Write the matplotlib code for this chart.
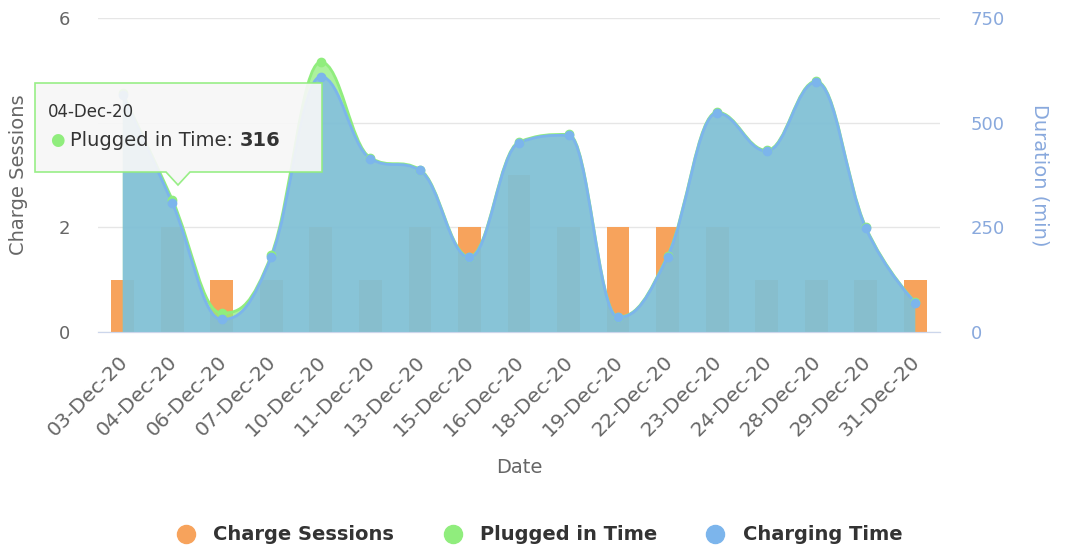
import numpy as np
import matplotlib
matplotlib.use("Agg")
import matplotlib.pyplot as plt
from matplotlib.path import Path
from matplotlib.patches import PathPatch, Polygon
from matplotlib.lines import Line2D
import matplotlib.transforms as mtransforms

dates = ['03-Dec-20', '04-Dec-20', '06-Dec-20', '07-Dec-20', '10-Dec-20', '11-Dec-20',
         '13-Dec-20', '15-Dec-20', '16-Dec-20', '18-Dec-20', '19-Dec-20', '22-Dec-20',
         '23-Dec-20', '24-Dec-20', '28-Dec-20', '29-Dec-20', '31-Dec-20']
sessions = [1, 2, 1, 1, 2, 1, 2, 2, 3, 2, 2, 2, 2, 1, 1, 1, 1]
plugged = [570, 316, 45, 184, 645, 416, 388, 180, 454, 472, 36, 182, 525, 434, 599, 251, 71]
charging = [565, 308, 30, 180, 610, 414, 386, 178, 452, 470, 35, 180, 523, 432, 597, 249, 70]
left_ticks = [0, 2, 4, 6]
left_labels = ['0', '2', '', '6']   # the "4" sits under the tooltip
right_ticks = [0, 250, 500, 750]

c_orange = '#f7a35c'
c_green = '#90ed7d'
c_blue = '#7cb5ec'
W, H = 1069, 551


def spline(xs, ys, sm=1.5):
    # highcharts-like areaspline control points
    n = len(xs)
    lc = [None] * n
    rc = [None] * n
    for i in range(1, n - 1):
        px, py = xs[i], ys[i]
        lx, ly = xs[i - 1], ys[i - 1]
        nx, ny = xs[i + 1], ys[i + 1]
        lcx, lcy = (sm * px + lx) / (sm + 1), (sm * py + ly) / (sm + 1)
        rcx, rcy = (sm * px + nx) / (sm + 1), (sm * py + ny) / (sm + 1)
        corr = (rcy - lcy) * (rcx - px) / (rcx - lcx) + py - rcy
        lcy += corr
        rcy += corr
        if lcy > ly and lcy > py:
            lcy = max(ly, py); rcy = 2 * py - lcy
        elif lcy < ly and lcy < py:
            lcy = min(ly, py); rcy = 2 * py - lcy
        if rcy > ny and rcy > py:
            rcy = max(ny, py); lcy = 2 * py - rcy
        elif rcy < ny and rcy < py:
            rcy = min(ny, py); lcy = 2 * py - rcy
        lc[i] = (lcx, lcy)
        rc[i] = (rcx, rcy)
    verts = [(xs[0], ys[0])]
    for i in range(1, n):
        verts += [rc[i - 1] or (xs[i - 1], ys[i - 1]), lc[i] or (xs[i], ys[i]), (xs[i], ys[i])]
    return verts


def draw_area(ax, xs, ys, color):
    v = spline(xs, ys)
    line = Path(v, [Path.MOVETO] + [Path.CURVE4] * (len(v) - 1))
    fill = Path([(xs[0], 0)] + v + [(xs[-1], 0), (xs[0], 0)],
                [Path.MOVETO, Path.LINETO] + [Path.CURVE4] * (len(v) - 1) + [Path.LINETO, Path.CLOSEPOLY])
    ax.add_patch(PathPatch(fill, facecolor=color, alpha=0.75, lw=0))
    ax.add_patch(PathPatch(line, facecolor='none', edgecolor=color, lw=2))
    ax.plot(xs, ys, 'o', color=color, ms=6, zorder=3)


fig = plt.figure(figsize=(W / 100, H / 100), dpi=100)
ax = fig.add_axes([98 / W, (H - 332) / H, (940 - 98) / W, (332 - 18) / H])
ax2 = ax.twinx()

x = np.arange(len(dates))
ax.bar(x, sessions, width=0.46, color=c_orange, zorder=2)
ax.set_xlim(-0.5, len(dates) - 0.5)
ax.set_ylim(0, 6)
ax.set_yticks(left_ticks)
ax.set_yticklabels(left_labels)
ax.grid(axis='y', color='#e6e6e6', lw=1)
ax.set_axisbelow(True)

draw_area(ax2, x, plugged, c_green)
draw_area(ax2, x, charging, c_blue)
ax2.set_ylim(0, 750)
ax2.set_yticks(right_ticks)

for a in (ax, ax2):
    for s in ('top', 'left', 'right'):
        a.spines[s].set_visible(False)
    a.spines['bottom'].set_color('#ccd6eb')
    a.tick_params(axis='y', length=0)

ax.tick_params(axis='y', labelsize=13, labelcolor='#666666', pad=20)
ax2.tick_params(axis='y', labelsize=13, labelcolor='#89a9dd', pad=22)

ax.set_xticks(x)
ax.set_xticklabels(dates, rotation=45, ha='right', va='center', rotation_mode='anchor',
                   fontsize=14.5, color='#666666')
ax.tick_params(axis='x', length=0, pad=19)
off = mtransforms.ScaledTranslation(2 / 100, 0, fig.dpi_scale_trans)
for lab in ax.get_xticklabels():
    lab.set_transform(lab.get_transform() + off)

ax.set_ylabel('Charge Sessions', fontsize=14, color='#666666')
ax.yaxis.set_label_coords((28 - 98) / 842, 0.5)
ax2.set_ylabel('Duration (min)', fontsize=14, color='#89a9dd', rotation=270, va='center')
ax2.yaxis.set_label_coords((1040 - 98) / 842, 0.5)
ax.set_xlabel('Date', fontsize=14, color='#666666')
ax.xaxis.set_label_coords(0.5, -(458 - 332) / 314)

handles = [Line2D([], [], marker='o', ls='', ms=13, color=c) for c in (c_orange, c_green, c_blue)]
leg = fig.legend(handles, ['Charge Sessions', 'Plugged in Time', 'Charging Time'],
                 loc='center', bbox_to_anchor=(0.5, (H - 535) / H), ncol=3, frameon=False,
                 prop={'size': 14, 'weight': 'bold'}, handletextpad=0.4, columnspacing=2.0)
for t in leg.get_texts():
    t.set_color('#333333')

# tooltip
pts = [(35, 83), (322, 83), (322, 172), (190, 172), (178, 185), (166, 172), (35, 172)]
tip = Polygon([(px / W, 1 - py / H) for px, py in pts], closed=True, transform=fig.transFigure,
              facecolor='#f7f7f7', alpha=0.92, edgecolor=c_green, lw=1.2, zorder=10)
fig.patches.append(tip)
fig.text(48 / W, 1 - 112 / H, '04-Dec-20', fontsize=12, color='#333333', va='center', zorder=11)
fig.text(50 / W, 1 - 140 / H, '\u25cf', fontsize=12, color=c_green, va='center', zorder=11)
t1 = fig.text(70 / W, 1 - 140 / H, 'Plugged in Time: ', fontsize=14, color='#333333',
              va='center', zorder=11)
r = fig.canvas.get_renderer()
bb = t1.get_window_extent(r)
fig.text(bb.x1 / fig.bbox.width, 1 - 140 / H, '316', fontsize=14, fontweight='bold',
         color='#333333', va='center', zorder=11)

fig.savefig('out.png', dpi=100)
